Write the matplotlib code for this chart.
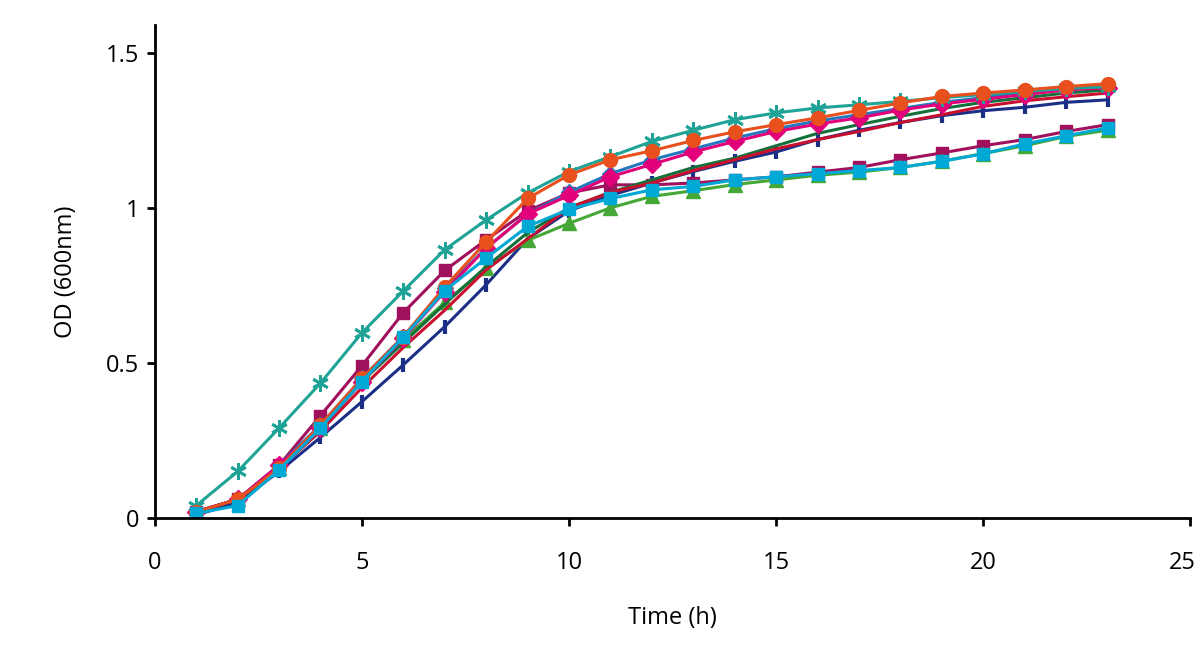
import matplotlib
matplotlib.use("Agg")
import matplotlib.pyplot as plt
import matplotlib.transforms as mtransforms

# --- Daten ---
zeit = list(range(1, 24))

od_navy = [0.01, 0.05, 0.15, 0.26, 0.375, 0.494, 0.617, 0.752, 0.90, 0.99, 1.04, 1.08,
           1.117, 1.15, 1.18, 1.22, 1.25, 1.275, 1.297, 1.313, 1.324, 1.34, 1.348]
od_lila = [0.02, 0.06, 0.17, 0.33, 0.491, 0.662, 0.798, 0.897, 0.99, 1.048, 1.074, 1.074,
           1.08, 1.09, 1.10, 1.115, 1.13, 1.155, 1.177, 1.20, 1.22, 1.246, 1.268]
od_gruen = [0.02, 0.06, 0.16, 0.29, 0.45, 0.575, 0.695, 0.806, 0.895, 0.95, 1.0, 1.037,
            1.055, 1.075, 1.09, 1.105, 1.115, 1.13, 1.15, 1.175, 1.20, 1.23, 1.25]
od_dunkelgruen = [0.02, 0.06, 0.16, 0.29, 0.44, 0.565, 0.69, 0.81, 0.92, 1.0, 1.05, 1.09,
                  1.13, 1.16, 1.20, 1.24, 1.268, 1.295, 1.32, 1.34, 1.355, 1.37, 1.38]
od_rot = [0.02, 0.06, 0.16, 0.28, 0.42, 0.55, 0.67, 0.80, 0.90, 1.0, 1.05, 1.08,
          1.12, 1.155, 1.19, 1.22, 1.246, 1.275, 1.30, 1.327, 1.345, 1.358, 1.37]
od_blau = [0.02, 0.06, 0.17, 0.30, 0.45, 0.585, 0.74, 0.87, 0.98, 1.05, 1.11, 1.155,
           1.19, 1.225, 1.255, 1.28, 1.30, 1.32, 1.34, 1.355, 1.37, 1.385, 1.39]
od_pink = [0.02, 0.06, 0.17, 0.29, 0.44, 0.58, 0.73, 0.87, 0.98, 1.04, 1.10, 1.14,
           1.18, 1.214, 1.246, 1.27, 1.29, 1.315, 1.335, 1.35, 1.365, 1.38, 1.387]
od_tuerkis = [0.04, 0.15, 0.29, 0.435, 0.597, 0.732, 0.865, 0.961, 1.048, 1.117, 1.165, 1.214,
              1.25, 1.284, 1.306, 1.322, 1.332, 1.343, 1.355, 1.365, 1.375, 1.385, 1.39]
od_orange = [0.02, 0.06, 0.16, 0.30, 0.45, 0.585, 0.745, 0.89, 1.03, 1.106, 1.155, 1.184,
             1.217, 1.245, 1.268, 1.29, 1.314, 1.338, 1.359, 1.37, 1.38, 1.391, 1.40]
od_cyan = [0.015, 0.04, 0.155, 0.29, 0.44, 0.583, 0.733, 0.838, 0.94, 0.995, 1.03, 1.058,
           1.069, 1.09, 1.10, 1.11, 1.12, 1.13, 1.15, 1.174, 1.206, 1.232, 1.258]

x_ticks = [0, 5, 10, 15, 20, 25]
y_ticks = [0, 0.5, 1, 1.5]
y_tick_labels = ["0", "0.5", "1", "1.5"]

plt.rcParams["font.family"] = ["Open Sans", "DejaVu Sans"]

# --- Diagramm ---
fig = plt.figure(figsize=(12, 6.52), dpi=100)
ax = fig.add_axes([0.129, 0.2055, 0.863, 0.7565])

lw = 2.2
ax.plot(zeit, od_navy, color="#1b2f86", lw=lw, marker="|", ms=10, mew=3)
ax.plot(zeit, od_lila, color="#a0105c", lw=lw, marker="s", ms=9)
ax.plot(zeit, od_gruen, color="#45a735", lw=lw, marker="^", ms=10)
ax.plot(zeit, od_dunkelgruen, color="#13703a", lw=lw)
ax.plot(zeit, od_rot, color="#c8102e", lw=lw)
ax.plot(zeit, od_blau, color="#2378c0", lw=lw, marker="D", ms=8)
ax.plot(zeit, od_pink, color="#e2007a", lw=lw, marker="D", ms=9)
ax.plot(zeit, od_tuerkis, color="#1fa396", lw=lw, marker=(6, 2, 0), ms=12, mew=2)
ax.plot(zeit, od_orange, color="#e8501e", lw=lw, marker="o", ms=10)
ax.plot(zeit, od_cyan, color="#00a8d6", lw=lw, marker="s", ms=9)

ax.set_xlim(0, 25)
ax.set_ylim(0, 1.59)
ax.set_xticks(x_ticks)
ax.set_yticks(y_ticks)
ax.set_yticklabels(y_tick_labels)

for s in ["top", "right"]:
    ax.spines[s].set_visible(False)
for s in ["left", "bottom"]:
    ax.spines[s].set_linewidth(2)
    ax.spines[s].set_color("black")

ax.tick_params(axis="x", direction="out", length=6, width=2, labelsize=17, pad=18)
ax.tick_params(axis="y", direction="out", length=6, width=2, labelsize=17, pad=5)

# letzte x-Beschriftung etwas nach links, damit "25" nicht abgeschnitten wird
letzte = ax.get_xticklabels()[-1]
letzte.set_transform(letzte.get_transform()
                     + mtransforms.ScaledTranslation(-8 / 100, 0, fig.dpi_scale_trans))

ax.set_xlabel("Time (h)", fontsize=17, labelpad=22)
ax.set_ylabel("OD (600nm)", fontsize=17, labelpad=20)

fig.savefig("out.png", dpi=100)
